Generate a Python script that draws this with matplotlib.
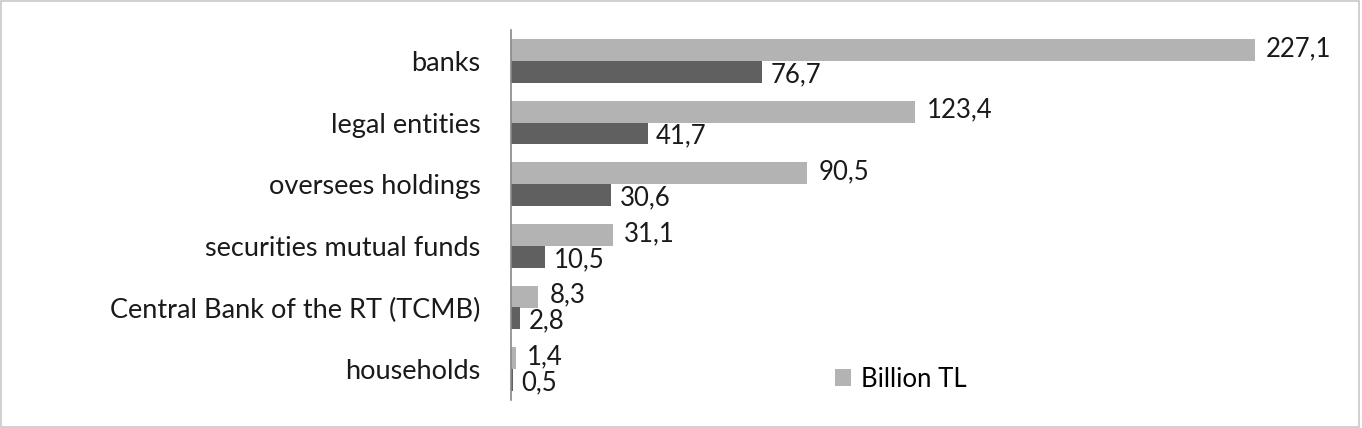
import matplotlib
matplotlib.use("Agg")
import matplotlib.pyplot as plt
from matplotlib.patches import Rectangle

categories = ["banks", "legal entities", "oversees holdings", "securities mutual funds",
              "Central Bank of the RT (TCMB)", "households"]
billion_tl = [227.1, 123.4, 90.5, 31.1, 8.3, 1.4]
billion_usd = [76.7, 41.7, 30.6, 10.5, 2.8, 0.5]

plt.rcParams['font.family'] = ['Lato', 'DejaVu Sans']

fig = plt.figure(figsize=(13.62, 4.28), dpi=100)
ax = fig.add_axes([511/1362, 1 - 400/428, (1330-511)/1362, 370/428])

light = "#b3b3b3"
dark = "#606060"
txt = "#1a1a1a"
fs = 18.5
n = len(categories)
pos = list(range(n))[::-1]
h = 0.355
ax.barh([p + h/2 for p in pos], billion_tl, height=h, color=light, label="Billion TL")
ax.barh([p - h/2 for p in pos], billion_usd, height=h, color=dark)

def fmt(v):
    return f"{v:.1f}".replace(".", ",")

for p, v in zip(pos, billion_tl):
    ax.annotate(fmt(v), (v, p + h/2), xytext=(8, 1), textcoords="offset points",
                va="center", ha="left", fontsize=fs, color=txt)
for p, v in zip(pos, billion_usd):
    ax.annotate(fmt(v), (v, p - h/2), xytext=(6, -2), textcoords="offset points",
                va="center", ha="left", fontsize=fs, color=txt)

ax.set_ylim(-0.5, n - 0.5)
ax.set_xlim(0, 250)
ax.set_yticks(pos)
ax.set_yticklabels(categories, fontsize=19.5, color=txt)
ax.tick_params(axis="y", length=0, pad=22)
ax.set_xticks([])
for s in ["top", "right", "bottom"]:
    ax.spines[s].set_visible(False)
ax.spines["left"].set_color("#888888")
ax.spines["left"].set_linewidth(1.2)

leg = ax.legend(loc="lower left", bbox_to_anchor=((812-511)/819, -0.04), frameon=False,
                fontsize=fs, handlelength=0.6, handleheight=0.6, handletextpad=0.4)

fig.patches.append(Rectangle((0.001, 0.002), 0.997, 0.995, transform=fig.transFigure,
                             fill=False, edgecolor="#c8c8c8", linewidth=1.2))

fig.savefig("out.png", dpi=100)
